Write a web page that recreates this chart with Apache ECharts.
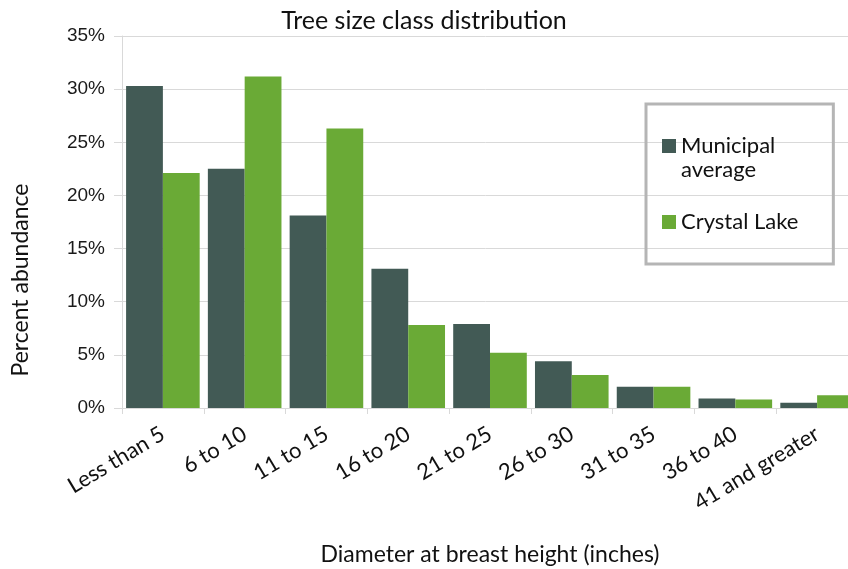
<!DOCTYPE html>
<html>
<head>
    <meta charset="utf-8">
    <script src="https://cdn.jsdelivr.net/npm/echarts@6/dist/echarts.min.js"></script>
    <title>Tree size class distribution</title>
    <style>
        html, body { margin: 0; padding: 0; background: #fff; }
        #main { width: 848px; height: 569px; }
    </style>
</head>
<body>
<div id="main"></div>
<script>
    // size classes (DBH, inches)
    const sizeClasses = ['Less than 5', '6 to 10', '11 to 15', '16 to 20', '21 to 25',
        '26 to 30', '31 to 35', '36 to 40', '41 and greater'];
    // percent abundance
    const municipal = [30.3, 22.5, 18.1, 13.1, 7.9, 4.4, 2.0, 0.9, 0.5];
    const crystalLake = [22.1, 31.2, 26.3, 7.8, 5.2, 3.1, 2.0, 0.8, 1.2];
    const yTicks = { min: 0, max: 35, step: 5 };

    const calibriLike = 'Lato, "Open Sans", sans-serif';
    const arialLike = '"Liberation Sans", Arial, sans-serif';
    const lineGray = '#d9d9d9';

    const chart = echarts.init(document.getElementById('main'));
    chart.setOption({
        backgroundColor: '#ffffff',
        animation: false,
        title: {
            text: 'Tree size class distribution',
            left: 'center',
            top: 3,
            textStyle: { fontFamily: calibriLike, fontWeight: 'normal', fontSize: 25, color: '#111' }
        },
        legend: {
            orient: 'vertical',
            left: 646,
            top: 104,
            padding: [6, 35, 30, 16],
            borderColor: '#b5b5b5',
            borderWidth: 3,
            itemWidth: 14,
            itemHeight: 14,
            itemGap: 28,
            icon: 'rect',
            // empty first line keeps "Municipal" level with its swatch
            formatter: name => name === 'Municipal average' ? '\nMunicipal\naverage' : name,
            textStyle: { fontFamily: calibriLike, fontSize: 22, lineHeight: 24, color: '#111' },
            data: ['Municipal average', 'Crystal Lake']
        },
        grid: { left: 122, top: 36, bottom: 161, width: 736, containLabel: false, outerBoundsMode: 'none' },
        xAxis: {
            type: 'category',
            data: sizeClasses,
            name: 'Diameter at breast height (inches)',
            nameLocation: 'middle',
            nameGap: 135,
            nameTextStyle: { fontFamily: calibriLike, fontSize: 23, color: '#111' },
            axisLine: { lineStyle: { color: lineGray } },
            axisTick: { show: true, length: 6, lineStyle: { color: lineGray } },
            axisLabel: {
                rotate: 31,
                margin: 24,
                fontFamily: calibriLike,
                fontSize: 22,
                color: '#111'
            }
        },
        yAxis: {
            type: 'value',
            min: yTicks.min,
            max: yTicks.max,
            interval: yTicks.step,
            name: 'Percent abundance',
            nameLocation: 'middle',
            nameGap: 90,
            // right padding pushes the rotated title down, as in the original
            nameTextStyle: { fontFamily: calibriLike, fontSize: 23, color: '#111', padding: [0, 116, 0, 0] },
            axisLine: { show: true, lineStyle: { color: lineGray } },
            axisTick: { show: true, length: 8, lineStyle: { color: lineGray } },
            splitLine: { lineStyle: { color: lineGray } },
            axisLabel: {
                formatter: '{value}%',
                margin: 17,
                fontFamily: arialLike,
                fontSize: 19,
                color: '#1a1a1a'
            }
        },
        series: [
            {
                name: 'Municipal average',
                type: 'bar',
                data: municipal,
                barGap: '0%',
                barCategoryGap: '10%',
                itemStyle: { color: '#425a55' }
            },
            {
                name: 'Crystal Lake',
                type: 'bar',
                data: crystalLake,
                barGap: '0%',
                barCategoryGap: '10%',
                itemStyle: { color: '#6aaa36' }
            }
        ]
    });
</script>
</body>
</html>
